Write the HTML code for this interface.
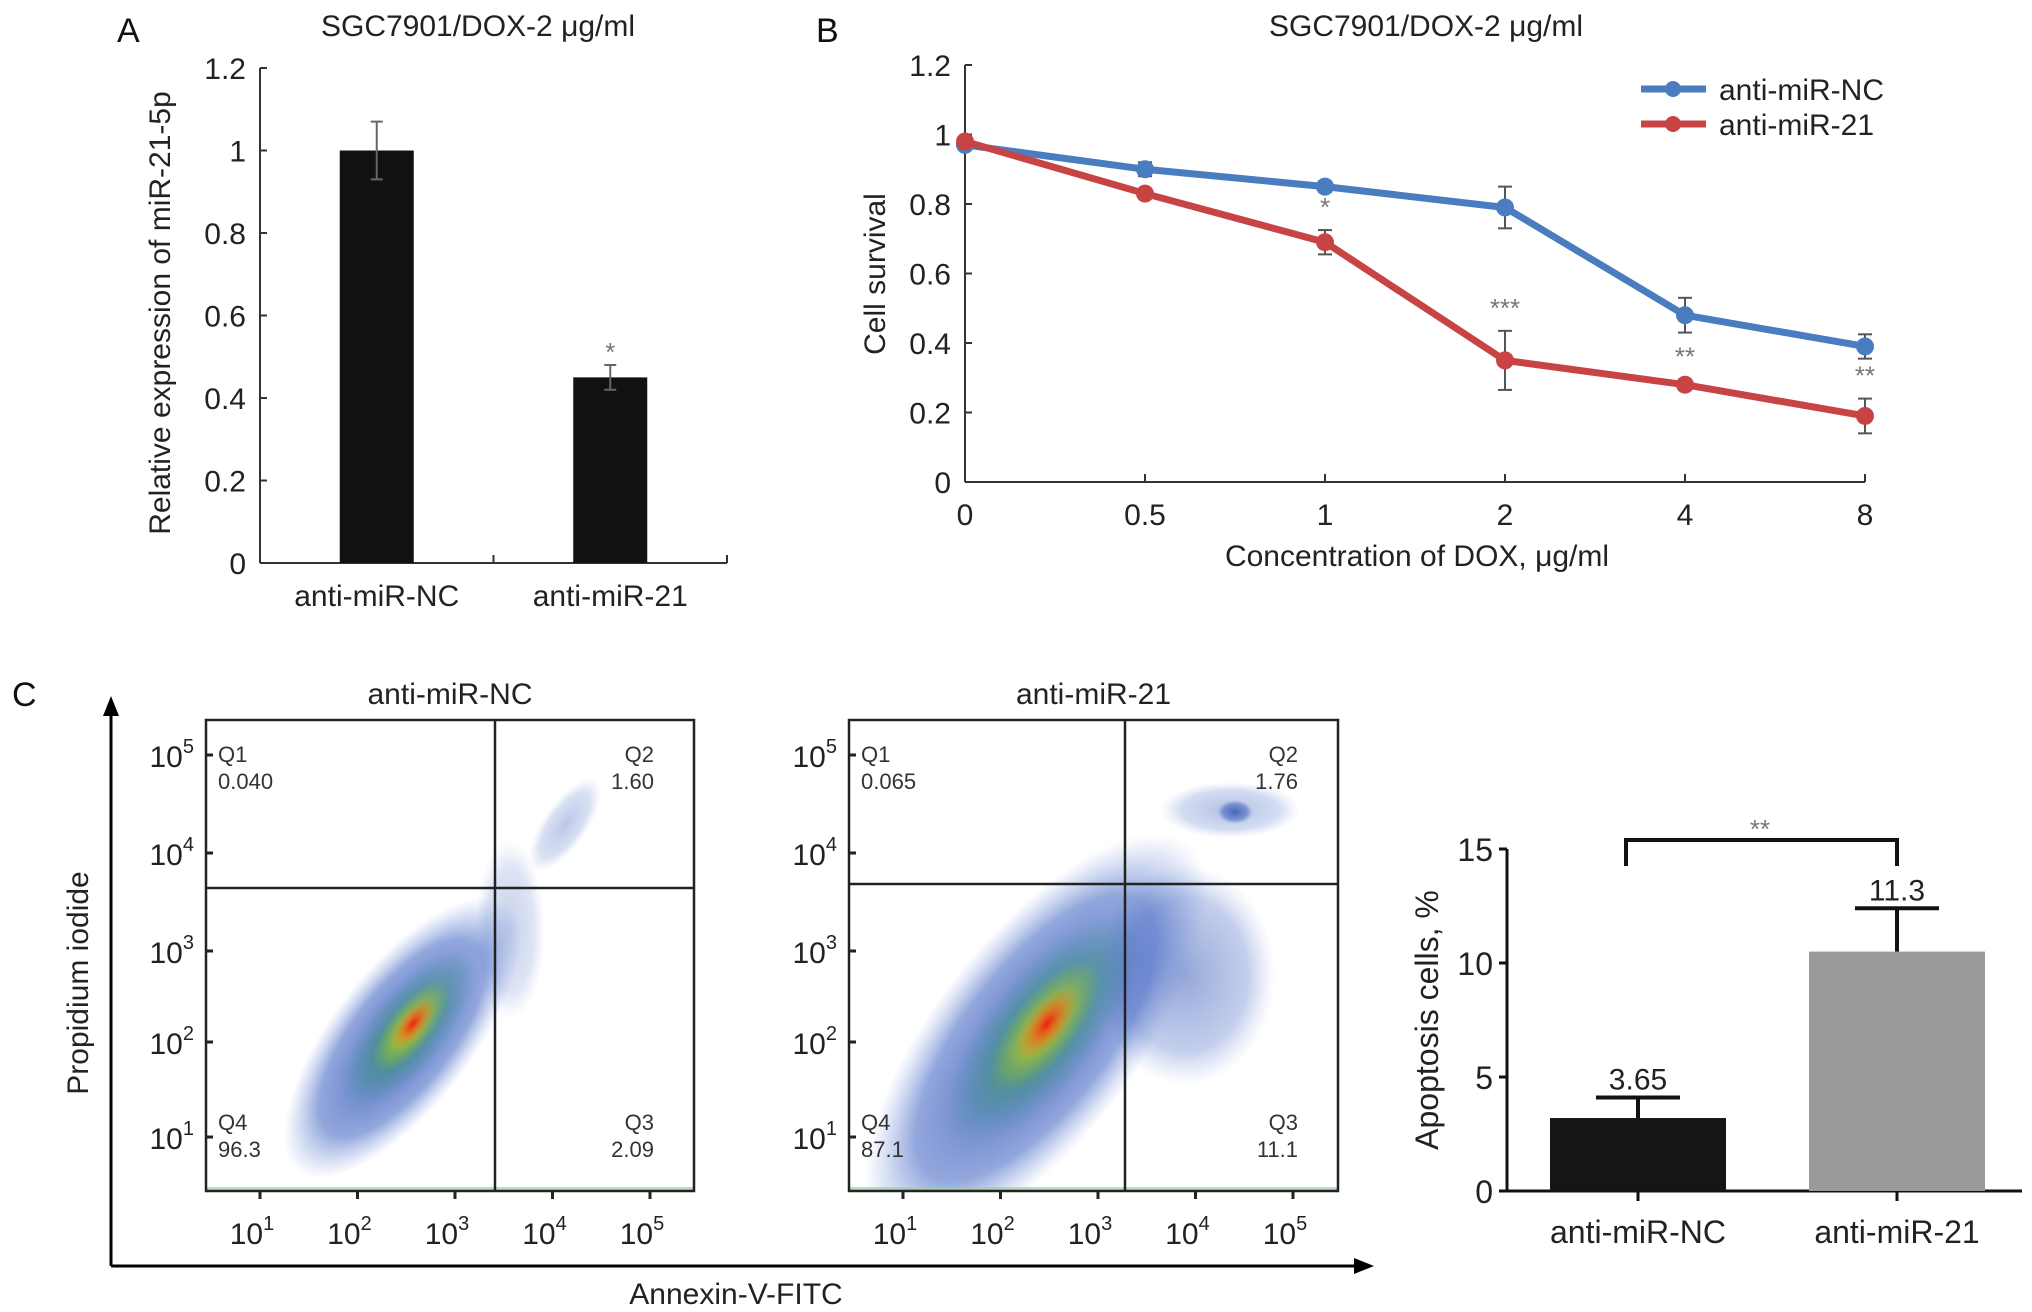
<!DOCTYPE html>
<html><head><meta charset="utf-8"><style>
html,body{margin:0;padding:0;background:#fff}
svg{display:block;font-family:"Liberation Sans",sans-serif}
</style></head><body>
<svg id="fig" width="2032" height="1312" viewBox="0 0 2032 1312">
<defs>
<radialGradient id="gBlue"><stop offset="0" stop-color="#2a4fb0" stop-opacity="0.9"/><stop offset="0.7" stop-color="#3a5fc0" stop-opacity="0.55"/><stop offset="1" stop-color="#6a8ad8" stop-opacity="0"/></radialGradient>
<radialGradient id="gGreen"><stop offset="0" stop-color="#58b848" stop-opacity="0.95"/><stop offset="1" stop-color="#2a9a8a" stop-opacity="0"/></radialGradient>
<radialGradient id="gYel"><stop offset="0" stop-color="#e8d020" stop-opacity="1"/><stop offset="1" stop-color="#a8c830" stop-opacity="0"/></radialGradient>
<radialGradient id="gRed"><stop offset="0" stop-color="#e82010" stop-opacity="1"/><stop offset="1" stop-color="#f07020" stop-opacity="0"/></radialGradient>
<marker id="arr" markerUnits="userSpaceOnUse" markerWidth="20" markerHeight="16" refX="4" refY="8" orient="auto"><path d="M0,0 L20,8 L0,16 z" fill="#000"/></marker>
<clipPath id="clip0"><rect x="206" y="720" width="488" height="471"/></clipPath>
<clipPath id="clip1"><rect x="849" y="720" width="489" height="471"/></clipPath>
</defs>
<g id="panelA"></g>
<g id="panelB"></g>
<g id="panelC"></g>
<g id="panelC2"></g>
</svg>
<script>
// ---- Panel A data
const aCats = ["anti-miR-NC","anti-miR-21"];
const aVals = [1.0, 0.45];
const aErr = [0.07, 0.03];
const aTicks = [0,0.2,0.4,0.6,0.8,1,1.2];
// ---- Panel B data
const bCats = ["0","0.5","1","2","4","8"];
const bNC = [0.97,0.90,0.85,0.79,0.48,0.39];
const bNCErr = [0.01,0.02,0.015,0.06,0.05,0.035];
const b21 = [0.98,0.83,0.69,0.35,0.28,0.19];
const b21Err = [0.01,0.01,0.035,0.085,0.015,0.05];
const bStars = ["","","*","***","**","**"];
const bTicks = [0,0.2,0.4,0.6,0.8,1,1.2];
// ---- Panel C bar data
const cCats = ["anti-miR-NC","anti-miR-21"];
const cVals = [3.2, 10.5];
const cErrTop = [4.1, 12.4];
const cLabels = ["3.65","11.3"];
const cTicks = [0,5,10,15];
// ---- Flow quadrant values
const flowTitles = ["anti-miR-NC","anti-miR-21"];
const flowQ = [["0.040","1.60","2.09","96.3"],["0.065","1.76","11.1","87.1"]];

const NS="http://www.w3.org/2000/svg";
function mk(parent,tag,attrs,text){const e=document.createElementNS(NS,tag);for(const k in attrs)e.setAttribute(k,attrs[k]);if(text!==undefined)e.textContent=text;parent.appendChild(e);return e;}

// ===== Panel A
(function(){
const g=document.getElementById('panelA');
const x0=260,x1=727,y0=563,y1=68,ymax=1.2;
const Y=v=>y0-(v/ymax)*(y0-y1);
const bw=(x1-x0)/2;
const X=i=>x0+bw*(i+0.5);
let t;
t=mk(g,'text',{x:117,y:42,'font-size':34,fill:'#111'},'A');

t=mk(g,'text',{x:478,y:36,'font-size':30,'text-anchor':'middle',fill:'#222'},'SGC7901/DOX-2 μg/ml');

mk(g,'line',{x1:x0,y1:y0,x2:x0,y2:y1,stroke:'#333','stroke-width':2});
mk(g,'line',{x1:x0,y1:y0,x2:x1,y2:y0,stroke:'#333','stroke-width':2});
mk(g,'line',{x1:(x0+x1)/2,y1:y0,x2:(x0+x1)/2,y2:y0-8,stroke:'#333','stroke-width':2});
mk(g,'line',{x1:x1,y1:y0,x2:x1,y2:y0-8,stroke:'#333','stroke-width':2});
aTicks.forEach(v=>{mk(g,'line',{x1:x0,y1:Y(v),x2:x0+7,y2:Y(v),stroke:'#333','stroke-width':2});
 t=mk(g,'text',{x:x0-14,y:Y(v)+11,'font-size':30,'text-anchor':'end',fill:'#222'},String(v));
 });
t=mk(g,'text',{x:0,y:0,'font-size':30,'text-anchor':'middle',fill:'#222',transform:`translate(170,313) rotate(-90)`},'Relative expression of miR-21-5p');

aVals.forEach((v,i)=>{
 const r=mk(g,'rect',{x:X(i)-37,y:Y(v),width:74,height:y0-Y(v),fill:'#111'});
 
 mk(g,'line',{x1:X(i),y1:Y(v+aErr[i]),x2:X(i),y2:Y(v-aErr[i]),stroke:'#666','stroke-width':2});
 mk(g,'line',{x1:X(i)-6,y1:Y(v+aErr[i]),x2:X(i)+6,y2:Y(v+aErr[i]),stroke:'#666','stroke-width':2});
 mk(g,'line',{x1:X(i)-6,y1:Y(v-aErr[i]),x2:X(i)+6,y2:Y(v-aErr[i]),stroke:'#666','stroke-width':2});
 t=mk(g,'text',{x:X(i),y:606,'font-size':30,'text-anchor':'middle',fill:'#222'},aCats[i]);
 
});
t=mk(g,'text',{x:X(1),y:Y(aVals[1]+aErr[1])-4,'font-size':26,'text-anchor':'middle',fill:'#777'},'*');

})();

// ===== Panel B
(function(){
const g=document.getElementById('panelB');
const x0=965,x1=1865,y0=482,y1=65,ymax=1.2;
const Y=v=>y0-(v/ymax)*(y0-y1);
const X=i=>x0+(x1-x0)*i/(bCats.length-1);
let t;
t=mk(g,'text',{x:816,y:42,'font-size':34,fill:'#111'},'B');

t=mk(g,'text',{x:1426,y:36,'font-size':30,'text-anchor':'middle',fill:'#222'},'SGC7901/DOX-2 μg/ml');

mk(g,'line',{x1:x0,y1:y0,x2:x0,y2:y1,stroke:'#333','stroke-width':2});
mk(g,'line',{x1:x0,y1:y0,x2:x1,y2:y0,stroke:'#333','stroke-width':2});
bTicks.forEach(v=>{mk(g,'line',{x1:x0,y1:Y(v),x2:x0+7,y2:Y(v),stroke:'#333','stroke-width':2});
 t=mk(g,'text',{x:x0-14,y:Y(v)+11,'font-size':30,'text-anchor':'end',fill:'#222'},String(v));
 });
bCats.forEach((c,i)=>{mk(g,'line',{x1:X(i),y1:y0,x2:X(i),y2:y0-8,stroke:'#333','stroke-width':2});
 t=mk(g,'text',{x:X(i),y:525,'font-size':30,'text-anchor':'middle',fill:'#222'},c);
 });
t=mk(g,'text',{x:1417,y:566,'font-size':30,'text-anchor':'middle',fill:'#222'},'Concentration of DOX, μg/ml');

t=mk(g,'text',{x:0,y:0,'font-size':30,'text-anchor':'middle',fill:'#222',transform:'translate(885,274) rotate(-90)'},'Cell survival');

function series(vals,errs,col,name){
 const pts=vals.map((v,i)=>X(i)+','+Y(v)).join(' ');
 const pl=mk(g,'polyline',{points:pts,fill:'none',stroke:col,'stroke-width':7,'stroke-linejoin':'round'});
 
 vals.forEach((v,i)=>{
  mk(g,'line',{x1:X(i),y1:Y(v+errs[i]),x2:X(i),y2:Y(v-errs[i]),stroke:'#555','stroke-width':2});
  mk(g,'line',{x1:X(i)-7,y1:Y(v+errs[i]),x2:X(i)+7,y2:Y(v+errs[i]),stroke:'#555','stroke-width':2});
  mk(g,'line',{x1:X(i)-7,y1:Y(v-errs[i]),x2:X(i)+7,y2:Y(v-errs[i]),stroke:'#555','stroke-width':2});
  const c=mk(g,'circle',{cx:X(i),cy:Y(v),r:9,fill:col});
  
 });
}
series(bNC,bNCErr,'#4a7cc0','anti-miR-NC');
series(b21,b21Err,'#c84444','anti-miR-21');
bStars.forEach((s,i)=>{if(!s)return;
 t=mk(g,'text',{x:X(i),y:Y(b21[i]+b21Err[i])-14,'font-size':26,'text-anchor':'middle',fill:'#777'},s);
 });
[['anti-miR-NC','#4a7cc0',89],['anti-miR-21','#c84444',124]].forEach(([n,c,y])=>{
 mk(g,'line',{x1:1641,y1:y,x2:1706,y2:y,stroke:c,'stroke-width':7});
 mk(g,'circle',{cx:1673,cy:y,r:8,fill:c});
 t=mk(g,'text',{x:1719,y:y+11,'font-size':30,fill:'#222'},n);
 
});
})();

// ===== Panel C flow plots
(function(){
const g=document.getElementById('panelC');
let t;
t=mk(g,'text',{x:12,y:706,'font-size':34,fill:'#111'},'C');

mk(g,'line',{x1:111,y1:1266,x2:111,y2:712,stroke:'#000','stroke-width':3,'marker-end':'url(#arr)'});
mk(g,'line',{x1:111,y1:1266,x2:1358,y2:1266,stroke:'#000','stroke-width':3,'marker-end':'url(#arr)'});
t=mk(g,'text',{x:0,y:0,'font-size':30,'text-anchor':'middle',fill:'#222',transform:'translate(88,983) rotate(-90)'},'Propidium iodide');

t=mk(g,'text',{x:736,y:1304,'font-size':30,'text-anchor':'middle',fill:'#222'},'Annexin-V-FITC');

const boxes=[{x:206,w:488,vx:495,hy:888,cx:408,cy:1030,s:1},{x:849,w:489,vx:1125,hy:884,cx:1042,cy:1030,s:1.45}];
const yT=[[755,'5'],[853,'4'],[951,'3'],[1042,'2'],[1137,'1']];
boxes.forEach((b,k)=>{
 const y0=720,y1=1191;
 t=mk(g,'text',{x:b.x+b.w/2,y:704,'font-size':30,'text-anchor':'middle',fill:'#222'},flowTitles[k]);
 
 const cg=mk(g,'g',{'clip-path':`url(#clip${k})`});
 
 // secondary clusters
 if(k===0){
  mk(cg,'ellipse',{cx:b.vx+15,cy:930,rx:35,ry:90,fill:'url(#gBlue)',opacity:0.3});
  mk(cg,'ellipse',{cx:b.vx+70,cy:825,rx:22,ry:55,fill:'url(#gBlue)',opacity:0.35,transform:`rotate(35 ${b.vx+70} 825)`});
 } else {
  mk(cg,'ellipse',{cx:b.vx+60,cy:975,rx:90,ry:110,fill:'url(#gBlue)',opacity:0.55});
  mk(cg,'ellipse',{cx:b.vx+105,cy:810,rx:70,ry:28,fill:'url(#gBlue)',opacity:0.4});
  mk(cg,'ellipse',{cx:b.vx+110,cy:812,rx:18,ry:12,fill:'url(#gBlue)',opacity:0.9});
 }
 const bl=mk(cg,'g',{transform:`translate(${b.cx},${b.cy}) rotate(-52)`});
 mk(bl,'ellipse',{cx:-10,cy:0,rx:170*b.s,ry:70*b.s,fill:'url(#gBlue)'});
 mk(bl,'ellipse',{cx:0,cy:0,rx:95*b.s,ry:38*b.s,fill:'url(#gGreen)'});
 mk(bl,'ellipse',{cx:5,cy:0,rx:55*b.s,ry:22*b.s,fill:'url(#gYel)'});
 mk(bl,'ellipse',{cx:8,cy:0,rx:30*b.s,ry:13*b.s,fill:'url(#gRed)'});
 mk(g,'rect',{x:b.x,y:y1-4,width:b.w,height:4,fill:'#9ad0a0',opacity:0.7});
 mk(g,'rect',{x:b.x,y:y0,width:b.w,height:y1-y0,fill:'none',stroke:'#222','stroke-width':2.5});
 mk(g,'line',{x1:b.vx,y1:y0,x2:b.vx,y2:y1,stroke:'#222','stroke-width':2.5});
 mk(g,'line',{x1:b.x,y1:b.hy,x2:b.x+b.w,y2:b.hy,stroke:'#222','stroke-width':2.5});
 yT.forEach(([y,e])=>{mk(g,'line',{x1:b.x,y1:y,x2:b.x+7,y2:y,stroke:'#222','stroke-width':3});
  t=mk(g,'text',{x:b.x-12,y:y+12,'font-size':30,'text-anchor':'end',fill:'#222'},'10');
  
  mk(t,'tspan',{dy:-14,'font-size':20},e);});
 [1,2,3,4,5].forEach((e,i)=>{const x=b.x+54+i*97.5;
  mk(g,'line',{x1:x,y1:y1,x2:x,y2:y1+8,stroke:'#222','stroke-width':3});
  t=mk(g,'text',{x:x-8,y:1244,'font-size':30,'text-anchor':'middle',fill:'#222'},'10');
  
  mk(t,'tspan',{dy:-14,'font-size':20},String(e));});
 const q=flowQ[k];
 [[b.x+12,762,'Q1',q[0],'start'],[b.x+b.w-40,762,'Q2',q[1],'end'],[b.x+b.w-40,1130,'Q3',q[2],'end'],[b.x+12,1130,'Q4',q[3],'start']].forEach(([x,y,l,v,a])=>{
  t=mk(g,'text',{x:x,y:y,'font-size':22,'text-anchor':a,fill:'#333'},l);
  
  t=mk(g,'text',{x:x,y:y+27,'font-size':22,'text-anchor':a,fill:'#333'},v);
  
 });
});
})();

// ===== Panel C bar
(function(){
const g=document.getElementById('panelC2');
const x0=1507,x1=2022,y0=1191,y1=849,ymax=15;
const Y=v=>y0-(v/ymax)*(y0-y1);
const X=i=>[1638,1897][i];
let t;
mk(g,'line',{x1:x0,y1:y0,x2:x0,y2:y1,stroke:'#111','stroke-width':3});
mk(g,'line',{x1:x0-8,y1:y0,x2:x1,y2:y0,stroke:'#111','stroke-width':3});
cTicks.forEach(v=>{mk(g,'line',{x1:x0-8,y1:Y(v),x2:x0,y2:Y(v),stroke:'#111','stroke-width':3});
 t=mk(g,'text',{x:x0-14,y:Y(v)+12,'font-size':32,'text-anchor':'end',fill:'#222'},String(v));
 });
t=mk(g,'text',{x:0,y:0,'font-size':32,'text-anchor':'middle',fill:'#222',transform:'translate(1438,1020) rotate(-90)'},'Apoptosis cells, %');

const cols=['#151515','#9a9a9a'];
cVals.forEach((v,i)=>{
 const r=mk(g,'rect',{x:X(i)-88,y:Y(v),width:176,height:y0-Y(v),fill:cols[i]});
 
 mk(g,'line',{x1:X(i),y1:Y(v),x2:X(i),y2:Y(cErrTop[i]),stroke:'#111','stroke-width':4});
 mk(g,'line',{x1:X(i)-42,y1:Y(cErrTop[i]),x2:X(i)+42,y2:Y(cErrTop[i]),stroke:'#111','stroke-width':4});
 mk(g,'line',{x1:X(i),y1:y0,x2:X(i),y2:y0+10,stroke:'#111','stroke-width':3});
 t=mk(g,'text',{x:X(i),y:Y(cErrTop[i])-8,'font-size':30,'text-anchor':'middle',fill:'#222'},cLabels[i]);
 
 t=mk(g,'text',{x:X(i),y:1243,'font-size':32,'text-anchor':'middle',fill:'#222'},cCats[i]);
 
});
const br=mk(g,'path',{d:`M${X(0)-12},${Y(15)+17} V840 H${X(1)} V${Y(15)+17}`,fill:'none',stroke:'#111','stroke-width':4});

t=mk(g,'text',{x:1760,y:838,'font-size':26,'text-anchor':'middle',fill:'#777'},'**');

})();
</script>
</body></html>
